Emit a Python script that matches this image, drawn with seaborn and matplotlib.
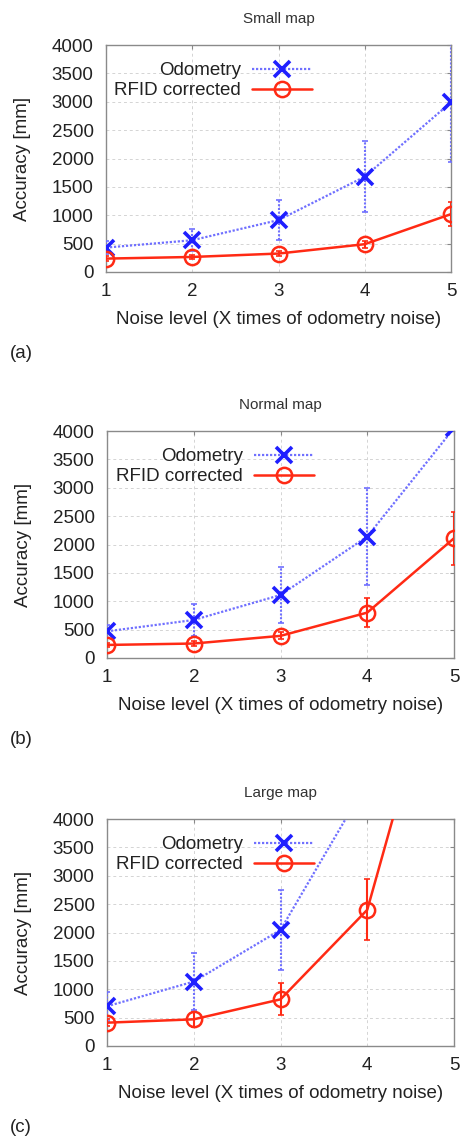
import numpy as np
import pandas as pd
import matplotlib
matplotlib.use("Agg")
import matplotlib.pyplot as plt
import seaborn as sns

sns.set_style("white")
plt.rcParams['font.family'] = ['Liberation Sans', 'DejaVu Sans']

noise = [1, 2, 3, 4, 5]
titles = ["Small map", "Normal map", "Large map"]
tags = ["(a)", "(b)", "(c)"]

odo_small = [430, 560, 915, 1680, 2990]
odo_small_err = [120, 190, 350, 620, 1050]
rfid_small = [236, 265, 325, 490, 1020]
rfid_small_err = [40, 40, 50, 60, 215]

odo_normal = [470, 670, 1110, 2140, 4050]
odo_normal_err = [110, 290, 500, 860, 0]
rfid_normal = [230, 255, 390, 800, 2110]
rfid_normal_err = [40, 50, 60, 250, 470]

odo_large = [700, 1135, 2045, 4650, 7000]
odo_large_err = [260, 500, 710, 0, 0]
rfid_large = [411, 470, 822, 2400, 7850]
rfid_large_err = [60, 130, 280, 540, 0]

yticks = [0, 500, 1000, 1500, 2000, 2500, 3000, 3500, 4000]

panels = [
    (odo_small, odo_small_err, rfid_small, rfid_small_err),
    (odo_normal, odo_normal_err, rfid_normal, rfid_normal_err),
    (odo_large, odo_large_err, rfid_large, rfid_large_err),
]

W, H = 461, 1141
fig = plt.figure(figsize=(W / 100, H / 100), dpi=100)

# axes boxes in pixels: left, right, top, bottom
boxes = [(106, 451, 45, 272), (107, 454, 431, 658), (107, 454, 819, 1046)]

BLUE = "#1f1fff"
BLUE_LINE = "#7070ff"
RED = "#ff2a14"
FS = 13.5

for i, ((o, oe, r, re), (l, rr, t, b)) in enumerate(zip(panels, boxes)):
    ax = fig.add_axes([l / W, 1 - b / H, (rr - l) / W, (b - t) / H])
    df = pd.DataFrame({
        "noise": noise * 2,
        "acc": o + r,
        "err": oe + re,
        "series": ["Odometry"] * 5 + ["RFID corrected"] * 5,
    })
    # error bars
    for name, col, ls in [("Odometry", BLUE_LINE, ":"), ("RFID corrected", RED, "-")]:
        d = df[(df.series == name) & (df.err > 0)]
        eb = ax.errorbar(d.noise, d.acc, yerr=d.err, fmt="none", ecolor=col,
                         elinewidth=1.5, capsize=2.5, capthick=1.2, zorder=3)
        if ls == ":":
            eb[2][0].set_linestyle((0, (1, 0.8)))
    sns.lineplot(data=df[df.series == "Odometry"], x="noise", y="acc", ax=ax,
                 color=BLUE_LINE, linestyle=(0, (1, 0.8)), linewidth=1.6,
                 marker="x", markersize=12, markeredgewidth=2.6,
                 markeredgecolor=BLUE, label="Odometry", zorder=4)
    sns.lineplot(data=df[df.series == "RFID corrected"], x="noise", y="acc", ax=ax,
                 color=RED, linewidth=1.8, marker="o", markersize=11,
                 markerfacecolor="none", markeredgewidth=1.8,
                 markeredgecolor=RED, label="RFID corrected", zorder=4)

    ax.set_xlim(1, 5)
    ax.set_ylim(0, 4000)
    ax.set_xticks(noise)
    ax.set_yticks(yticks)
    ax.tick_params(labelsize=FS, direction="in", length=3, color="#888888",
                   top=True, right=True, labelcolor="#222222")
    ax.tick_params(axis="y", pad=9)
    ax.tick_params(axis="x", pad=8)
    ax.grid(True, color="#d4d4d4", linestyle=(0, (3, 3)), linewidth=0.7)
    for s in ax.spines.values():
        s.set_color("#8a8a8a")
        s.set_linewidth(1.0)
    ax.set_xlabel("Noise level (X times of odometry noise)", fontsize=FS,
                  labelpad=8, color="#222222")
    ax.set_ylabel("Accuracy [mm]", fontsize=FS, labelpad=15, color="#222222")
    ax.set_title(titles[i], fontsize=11, pad=15.5, color="#333333")
    leg = ax.legend(loc="upper right", bbox_to_anchor=(0.597, 0.925),
                    frameon=False, markerfirst=False, fontsize=FS,
                    handlelength=3.2, handletextpad=0.6, labelspacing=0.15,
                    borderpad=0, borderaxespad=0)
    for tx in leg.get_texts():
        tx.set_color("#222222")
    fig.text(10 / W, 1 - (b + 81) / H, tags[i], fontsize=FS, va="center",
             ha="left", color="#222222")

fig.savefig("out.png", dpi=100)
